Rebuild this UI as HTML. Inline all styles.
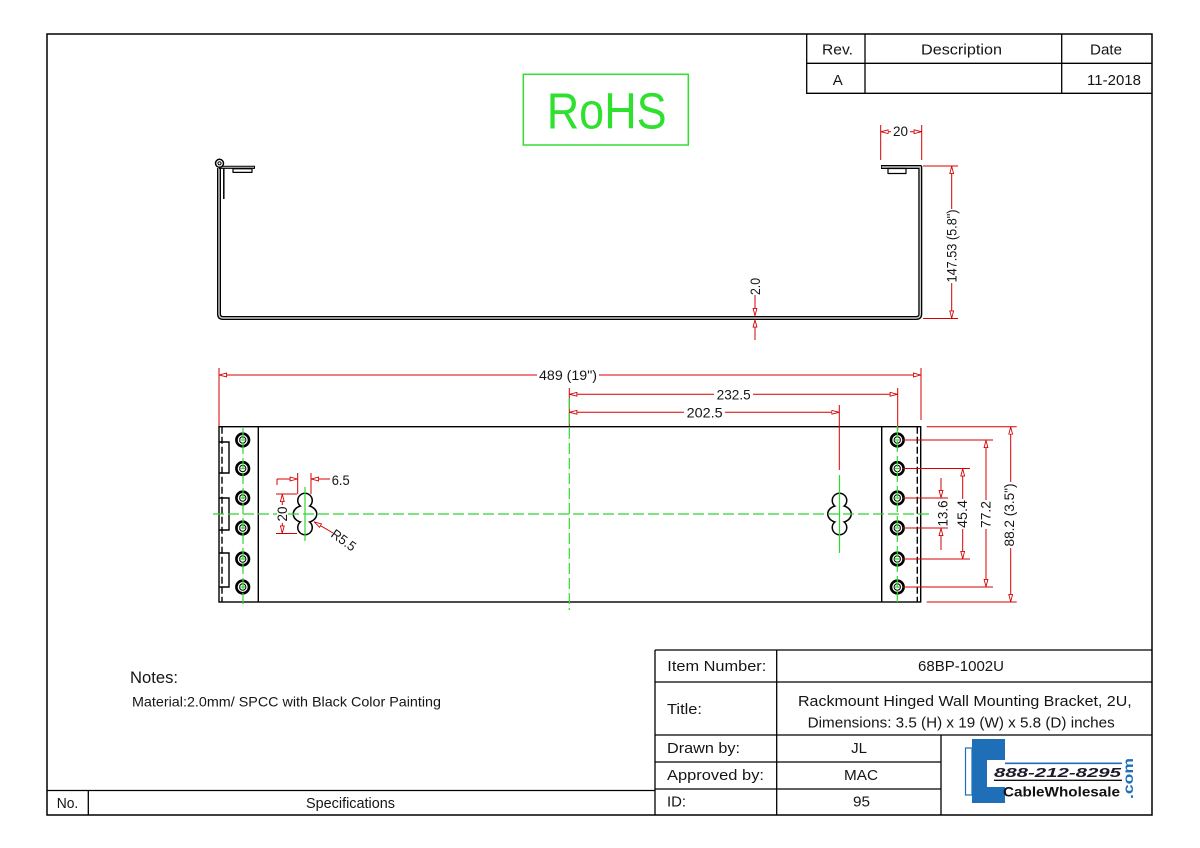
<!DOCTYPE html>
<html><head><meta charset="utf-8"><style>
html,body{margin:0;padding:0;background:#fff;}
svg{display:block;}
text{font-family:"Liberation Sans",Arial,sans-serif;fill:#151515;}
</style></head><body>
<svg width="1200" height="848" viewBox="0 0 1200 848" xmlns="http://www.w3.org/2000/svg">
<defs>
<marker id="a" viewBox="0 0 10 6" refX="10" refY="3" markerWidth="8" markerHeight="5" markerUnits="userSpaceOnUse" orient="auto-start-reverse">
<path d="M0.5,0.6 L9.5,3 L0.5,5.4 Z" fill="#fff" stroke="#d40000" stroke-width="1.1"/>
</marker>
<g id="h"><circle r="6.3" fill="#fff" stroke="#000" stroke-width="2.6"/><circle r="3.2" fill="none" stroke="#000" stroke-width="1"/></g>
</defs>

<rect x="47" y="34" width="1105" height="781" fill="none" stroke="#000" stroke-width="1.5"/>

<path d="M806.7 34 V93.3 H1152 M806.7 63.3 H1152 M865 34 V93.3 M1061.7 34 V93.3" stroke="#000" stroke-width="1.3" fill="none"/>
<text x="822" y="54.5" font-size="15" textLength="31" lengthAdjust="spacingAndGlyphs">Rev.</text>
<text x="921" y="54.5" font-size="15" textLength="81" lengthAdjust="spacingAndGlyphs">Description</text>
<text x="1090" y="54.5" font-size="15" textLength="32" lengthAdjust="spacingAndGlyphs">Date</text>
<text x="837.7" y="85" font-size="15" text-anchor="middle">A</text>
<text x="1114" y="85" font-size="15" text-anchor="middle">11-2018</text>

<rect x="523.3" y="74.3" width="165" height="70.7" fill="none" stroke="#33dd33" stroke-width="1.5"/>
<text x="546.7" y="128.3" font-size="51" textLength="120" lengthAdjust="spacingAndGlyphs" style="fill:#2fe02f">RoHS</text>

<g fill="none" stroke-linejoin="round">
<path d="M219 168 V314 Q219 318 223 318 H916 Q920.3 318 920.3 314 V167 H881" stroke="#000" stroke-width="4"/>
<path d="M219 168 V314 Q219 318 223 318 H916 Q920.3 318 920.3 314 V167 H881.8" stroke="#cfcfcf" stroke-width="1.4"/>
<path d="M219 167.3 H255" stroke="#000" stroke-width="3.2"/>
<path d="M220.5 167.3 H254" stroke="#cfcfcf" stroke-width="1"/>
<rect x="233" y="168.8" width="19" height="3.6" stroke="#000" stroke-width="1.2"/>
<rect x="888" y="168.5" width="18" height="5" stroke="#000" stroke-width="1.2"/>
<path d="M223.8 168 V199" stroke="#000" stroke-width="1.5"/>
<circle cx="219.5" cy="163.3" r="4" stroke="#000" stroke-width="1.5" fill="#fff"/>
<circle cx="219.5" cy="163.3" r="1.6" stroke="#000" stroke-width="1"/>
</g>

<g fill="none" stroke="#000" stroke-width="1.4">
<rect x="219" y="426.7" width="701.7" height="175.3"/>
<path d="M258.3 426.7 V602 M881.7 426.7 V602"/>
<path d="M917.3 426.7 V602 M222 426.7 V602" stroke-dasharray="7 3"/>
<path d="M219 442 H229 V473 H219 M219 498 H229 V530 H219 M219 553 H229 V587 H219"/>
</g>

<g stroke="#000" stroke-width="3" fill="#fff">
<circle cx="305" cy="500.5" r="6.5"/><ellipse cx="305" cy="514" rx="11" ry="8"/><circle cx="305" cy="527.5" r="6.5"/>
<circle cx="839.5" cy="500.5" r="6.5"/><ellipse cx="839.5" cy="514" rx="11" ry="8"/><circle cx="839.5" cy="527.5" r="6.5"/>
</g>
<g fill="#fff">
<circle cx="305" cy="500.5" r="6.5"/><ellipse cx="305" cy="514" rx="11" ry="8"/><circle cx="305" cy="527.5" r="6.5"/>
<circle cx="839.5" cy="500.5" r="6.5"/><ellipse cx="839.5" cy="514" rx="11" ry="8"/><circle cx="839.5" cy="527.5" r="6.5"/>
</g>

<use href="#h" x="242.7" y="440"/><use href="#h" x="242.7" y="468.5"/><use href="#h" x="242.7" y="498"/>
<use href="#h" x="242.7" y="528"/><use href="#h" x="242.7" y="559"/><use href="#h" x="242.7" y="587"/>
<use href="#h" x="897.3" y="440"/><use href="#h" x="897.3" y="468.5"/><use href="#h" x="897.3" y="498"/>
<use href="#h" x="897.3" y="528"/><use href="#h" x="897.3" y="559"/><use href="#h" x="897.3" y="587"/>

<g stroke="#d40000" stroke-width="1" fill="none">
<path d="M880.7 125 V160 M921.7 125 V160"/>
<path d="M880.7 131.7 H921.7" marker-start="url(#a)" marker-end="url(#a)"/>
<path d="M923 166 H958 M923 318.5 H958"/>
<path d="M951.7 166 V318.5" marker-start="url(#a)" marker-end="url(#a)"/>
<path d="M755 295 V316" marker-end="url(#a)"/>
<path d="M755 340 V319.5" marker-end="url(#a)"/>
<path d="M219 368 V426 M921 368 V420 M569.3 388 V426 M897.7 388 V430 M839.3 405 V470"/>
<path d="M219 375 H921" marker-start="url(#a)" marker-end="url(#a)"/>
<path d="M569.3 394.3 H897.7" marker-start="url(#a)" marker-end="url(#a)"/>
<path d="M569.3 412.3 H839.3" marker-start="url(#a)" marker-end="url(#a)"/>
<path d="M297.7 473 V494 M311 473 V494 M277 479 V485"/>
<path d="M277 479 H297.7" marker-end="url(#a)"/>
<path d="M330 479 H311" marker-end="url(#a)"/>
<path d="M276 494 H297 M276 533.5 H297"/>
<path d="M282.3 494 V533.5" marker-start="url(#a)" marker-end="url(#a)"/>
<path d="M333 533 L314 521.8" marker-end="url(#a)"/>
<path d="M903 440 H993 M903 468.5 H970 M903 498 H948 M903 528 H948 M903 559 H970 M903 587 H993 M926.7 426.7 H1016.7 M926.7 602 H1016.7"/>
<path d="M941 478 V498" marker-end="url(#a)"/>
<path d="M941 550 V528" marker-end="url(#a)"/>
<path d="M962.7 468.5 V559" marker-start="url(#a)" marker-end="url(#a)"/>
<path d="M986 440 V587" marker-start="url(#a)" marker-end="url(#a)"/>
<path d="M1010.7 426.7 V602" marker-start="url(#a)" marker-end="url(#a)"/>
</g>

<g stroke="#2fd82f" stroke-width="1.2" fill="none">
<path d="M213 514 H932" stroke-dasharray="11 4"/>
<path d="M243 428 V606 M897.3 426 V606" stroke-dasharray="11 4"/>
<path d="M569.3 398 V610" stroke-dasharray="11 4"/>
<path d="M839.5 475 V553 M305 487 V541"/>
<path d="M239.5 440 h6 M239.5 468.5 h6 M239.5 498 h6 M239.5 528 h6 M239.5 559 h6 M239.5 587 h6"/>
<path d="M894.3 440 h6 M894.3 468.5 h6 M894.3 498 h6 M894.3 528 h6 M894.3 559 h6 M894.3 587 h6"/>
</g>

<g fill="#fff">
<rect x="891" y="125" width="19" height="13"/>
<rect x="946" y="209" width="12" height="74"/>
<rect x="537" y="368" width="62" height="14"/>
<rect x="714" y="388" width="39" height="13"/>
<rect x="684" y="406" width="41" height="13"/>
<rect x="277" y="505" width="11" height="18"/>
<rect x="957" y="499" width="11" height="30"/>
<rect x="980.5" y="500" width="11" height="29"/>
<rect x="1003.5" y="482" width="12" height="66"/>
</g>

<g font-size="13.5">
<text x="893" y="136" textLength="15" lengthAdjust="spacingAndGlyphs">20</text>
<text transform="translate(956.5 246) rotate(-90)" text-anchor="middle" textLength="73" lengthAdjust="spacingAndGlyphs">147.53 (5.8")</text>
<text transform="translate(760 286.5) rotate(-90)" text-anchor="middle" textLength="17" lengthAdjust="spacingAndGlyphs">2.0</text>
<text x="539" y="380" textLength="58" lengthAdjust="spacingAndGlyphs">489 (19")</text>
<text x="716.7" y="399.5" textLength="34" lengthAdjust="spacingAndGlyphs">232.5</text>
<text x="686.7" y="417.5" textLength="36" lengthAdjust="spacingAndGlyphs">202.5</text>
<text x="331.7" y="485" textLength="18" lengthAdjust="spacingAndGlyphs">6.5</text>
<text transform="translate(287 514) rotate(-90)" text-anchor="middle" textLength="15" lengthAdjust="spacingAndGlyphs">20</text>
<text transform="translate(330 536) rotate(36)" textLength="27" lengthAdjust="spacingAndGlyphs">R5.5</text>
<text transform="translate(947.5 513.5) rotate(-90)" text-anchor="middle" textLength="26" lengthAdjust="spacingAndGlyphs">13.6</text>
<text transform="translate(967 514) rotate(-90)" text-anchor="middle" textLength="28" lengthAdjust="spacingAndGlyphs">45.4</text>
<text transform="translate(990.5 514.5) rotate(-90)" text-anchor="middle" textLength="27" lengthAdjust="spacingAndGlyphs">77.2</text>
<text transform="translate(1014 515) rotate(-90)" text-anchor="middle" textLength="63" lengthAdjust="spacingAndGlyphs">88.2 (3.5")</text>
</g>

<text x="130" y="683" font-size="17" textLength="48" lengthAdjust="spacingAndGlyphs">Notes:</text>
<text x="132" y="706.5" font-size="14" textLength="309" lengthAdjust="spacingAndGlyphs">Material:2.0mm/ SPCC with Black Color Painting</text>

<path d="M47 790.5 H655 M88.3 790.5 V815" stroke="#000" stroke-width="1.3" fill="none"/>
<text x="56.7" y="808" font-size="14.5" textLength="21.6" lengthAdjust="spacingAndGlyphs">No.</text>
<text x="306" y="808" font-size="14.5" textLength="89" lengthAdjust="spacingAndGlyphs">Specifications</text>

<g stroke="#000" stroke-width="1.3" fill="none">
<path d="M655 650 H1152 M655 650 V815 M655 682 H1152 M655 735 H1152 M655 762 H941 M655 789 H941 M776.7 650 V815 M941 735 V815"/>
</g>
<g font-size="15">
<text x="667.3" y="671" textLength="99" lengthAdjust="spacingAndGlyphs">Item Number:</text>
<text x="918" y="671" textLength="86" lengthAdjust="spacingAndGlyphs">68BP-1002U</text>
<text x="667" y="714" textLength="35" lengthAdjust="spacingAndGlyphs">Title:</text>
<text x="798" y="706" textLength="333.7" lengthAdjust="spacingAndGlyphs">Rackmount Hinged Wall Mounting Bracket, 2U,</text>
<text x="807.7" y="727.3" textLength="307" lengthAdjust="spacingAndGlyphs">Dimensions: 3.5 (H) x 19 (W) x 5.8 (D) inches</text>
<text x="667" y="753" textLength="73" lengthAdjust="spacingAndGlyphs">Drawn by:</text>
<text x="859" y="753" text-anchor="middle">JL</text>
<text x="667" y="780" textLength="97" lengthAdjust="spacingAndGlyphs">Approved by:</text>
<text x="844" y="780" textLength="34" lengthAdjust="spacingAndGlyphs">MAC</text>
<text x="667" y="806.7" textLength="19" lengthAdjust="spacingAndGlyphs">ID:</text>
<text x="853" y="806.7" textLength="17" lengthAdjust="spacingAndGlyphs">95</text>
</g>

<path d="M972 739 H1005 V760 H987 V787 H1005 V803 H972 Z" fill="#1f6eb8"/>
<rect x="965.5" y="748" width="6.5" height="47" fill="none" stroke="#1f6eb8" stroke-width="1.2"/>
<path d="M1005 763.3 H1122" stroke="#1f6eb8" stroke-width="1.6"/>
<text x="994" y="777" font-size="13" font-style="italic" font-weight="bold" textLength="127" lengthAdjust="spacingAndGlyphs" style="fill:#1a1a2a">888-212-8295</text>
<path d="M994 780.3 H1122" stroke="#111" stroke-width="1.3"/>
<text x="1003" y="796.7" font-size="14" font-weight="bold" textLength="117" lengthAdjust="spacingAndGlyphs" style="fill:#111">CableWholesale</text>
<text transform="translate(1133 799) rotate(-90)" font-size="14" font-weight="bold" textLength="41" lengthAdjust="spacingAndGlyphs" style="fill:#1f6eb8">.com</text>
</svg>
</body></html>
